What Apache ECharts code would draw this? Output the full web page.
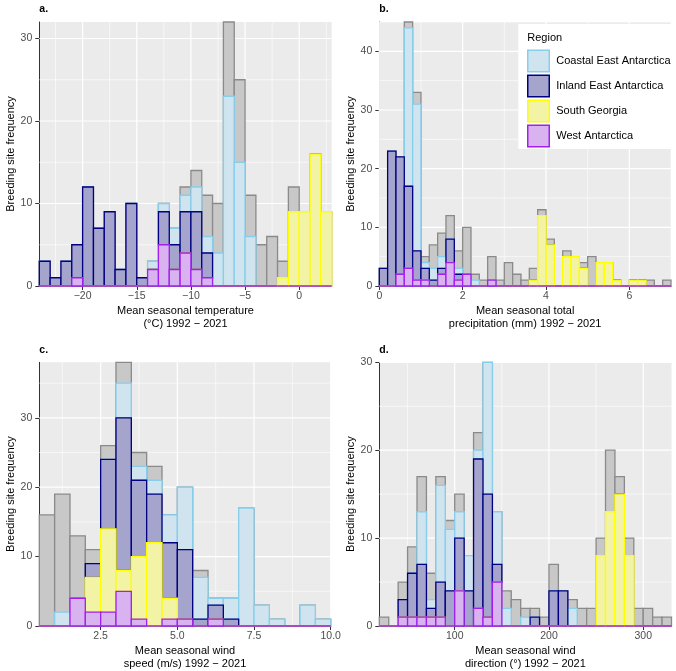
<!DOCTYPE html>
<html><head><meta charset="utf-8">
<script src="https://cdn.jsdelivr.net/npm/echarts@6/dist/echarts.min.js"></script>
<style>html,body{margin:0;padding:0;background:#fff}#c{width:676px;height:671px}</style>
</head><body><div id="c"></div>
<script>
// ---------- DATA ----------
const regionNames = ['Coastal East Antarctica', 'Inland East Antarctica', 'South Georgia', 'West Antarctica'];

// a. temperature: bins of 1 °C starting at -24
const tempBinStart = -24, tempBinWidth = 1;
const tempAll     = [3,1,3,5,12,7,9,2,10,1,3,10,7,12,14,11,10,32,25,11,5,6,3,12,9,16,9];
const tempCoastal = [0,0,0,0,0,0,0,0,0,0,1,1,2,2,3,2,4,23,15,6,0,0,0,0,0,0,0];
const tempInland  = [3,1,3,4,12,7,9,2,10,1,0,4,3,5,7,3,0,0,0,0,0,0,0,0,0,0,0];
const tempSG      = [0,0,0,0,0,0,0,0,0,0,0,0,0,0,0,0,0,0,0,0,0,0,1,9,9,16,9];
const tempWest    = [0,0,0,1,0,0,0,0,0,0,2,5,2,4,2,1,0,0,0,0,0,0,0,0,0,0,0];
const tempXTicks = [-20,-15,-10,-5,0];
const tempXMinor = [-22.5,-17.5,-12.5,-7.5,-2.5,2.5];

// b. precipitation: bins of 0.2 mm starting at 0
const precBinStart = 0, precBinWidth = 0.2;
const precAll     = [3,23,22,45,33,5,7,9,12,6,10,2,1,5,1,4,2,1,3,13,8,0,6,5,4,5,4,4,1,0,1,1,1,0,1];
const precCoastal = [0,0,0,27,25,1,2,2,0,1,0,1,0,0,0,0,0,0,0,0,0,0,0,0,0,0,0,0,0,0,0,0,0,0,0];
const precInland  = [3,23,20,14,5,2,1,1,4,1,0,0,0,0,0,0,0,0,0,0,0,0,0,0,0,0,0,0,0,0,0,0,0,0,0];
const precSG      = [0,0,0,0,0,0,0,0,0,0,0,0,0,0,0,0,0,0,1,12,7,0,5,5,3,0,4,4,1,0,1,1,0,0,0];
const precWest    = [0,0,2,3,1,1,0,2,4,1,2,0,0,1,0,0,0,0,0,0,0,0,0,0,0,0,0,0,0,0,0,0,0,0,0];
const precXTicks = [0,2,4,6];
const precXMinor = [1,3,5,7];

// c. wind speed: bins of 0.5 m/s starting at 0.5
const speedBinStart = 0.5, speedBinWidth = 0.5;
const speedAll     = [16,19,13,11,26,38,25,23,16,20,8,4,4,17,3,1,0,3,1];
const speedCoastal = [0,2,0,0,0,5,2,2,4,9,6,1,3,17,3,1,0,3,1];
const speedInland  = [0,0,0,2,10,22,11,7,8,10,1,2,1,0,0,0,0,0,0];
const speedSG      = [0,0,0,5,12,3,9,12,3,0,0,0,0,0,0,0,0,0,0];
const speedWest    = [0,0,4,2,2,5,1,0,1,1,0,1,0,0,0,0,0,0,0];
const speedXTicks = [2.5,5,7.5,10];
const speedXMinor = [1.25,3.75,6.25,8.75];

// d. wind direction: bins of 10° starting at 20
const dirBinStart = 20, dirBinWidth = 10;
const dirAll     = [1,0,5,9,17,6,17,12,15,8,22,30,13,4,3,2,2,1,7,4,3,2,2,10,20,17,10,2,2,1,1];
const dirCoastal = [0,0,0,0,6,1,11,7,3,4,1,15,6,2,0,1,0,0,0,0,2,0,0,0,0,0,0,0,0,0,0];
const dirInland  = [0,0,2,5,6,1,4,4,6,4,17,14,2,0,0,0,1,0,4,4,0,0,0,0,0,0,0,0,0,0,0];
const dirSG      = [0,0,0,0,0,0,0,0,0,0,0,0,0,0,0,0,0,0,0,0,0,0,0,8,13,15,8,0,0,0,0];
const dirWest    = [0,0,1,1,1,1,1,0,4,0,2,1,5,0,0,0,0,0,0,0,0,0,0,0,0,0,0,0,0,0,0];
const dirXTicks = [100,200,300];
const dirXMinor = [50,150,250];

// ---------- STYLE ----------
const FONT = '"Liberation Sans", Arial, Helvetica, sans-serif';
const STY = {
  all:     {fill:'#c8c8c8', stroke:'#8a8a8a'},
  coastal: {fill:'#cfe4ee', stroke:'#87ceeb'},
  inland:  {fill:'#a4a4cc', stroke:'#000080'},
  sg:      {fill:'#f3f3a6', stroke:'#ffff00'},
  west:    {fill:'#d9b3ef', stroke:'#a020f0'}
};
const BAR_LW = 1.3;

const panels = [
  {label:'a.', grid:{left:39.3, top:22, width:292.4, height:264}, xMin:-24, xMax:3, yMax:32,
   start:tempBinStart, width:tempBinWidth, all:tempAll, coastal:tempCoastal, inland:tempInland, sg:tempSG, west:tempWest,
   xTicks:tempXTicks, xMinor:tempXMinor, yTicks:[0,10,20,30], yMinor:[5,15,25],
   xName:'Mean seasonal temperature\n(°C) 1992 − 2021', fmt:v => v < 0 ? '−' + Math.abs(v) : String(v)},
  {label:'b.', grid:{left:379.3, top:22, width:291.7, height:264}, xMin:0, xMax:7, yMax:45,
   start:precBinStart, width:precBinWidth, all:precAll, coastal:precCoastal, inland:precInland, sg:precSG, west:precWest,
   xTicks:precXTicks, xMinor:precXMinor, yTicks:[0,10,20,30,40], yMinor:[5,15,25,35,45],
   xName:'Mean seasonal total\nprecipitation (mm) 1992 − 2021', fmt:v => String(v)},
  {label:'c.', grid:{left:39.3, top:362.3, width:291.4, height:263.7}, xMin:0.5, xMax:10, yMax:38,
   start:speedBinStart, width:speedBinWidth, all:speedAll, coastal:speedCoastal, inland:speedInland, sg:speedSG, west:speedWest,
   xTicks:speedXTicks, xMinor:speedXMinor, yTicks:[0,10,20,30], yMinor:[5,15,25,35],
   xName:'Mean seasonal wind\nspeed (m/s) 1992 − 2021', fmt:v => v.toFixed(1)},
  {label:'d.', grid:{left:379.3, top:362.3, width:292.2, height:263.7}, xMin:20, xMax:330, yMax:30,
   start:dirBinStart, width:dirBinWidth, all:dirAll, coastal:dirCoastal, inland:dirInland, sg:dirSG, west:dirWest,
   xTicks:dirXTicks, xMinor:dirXMinor, yTicks:[0,10,20,30], yMinor:[5,15,25],
   xName:'Mean seasonal wind\ndirection (°) 1992 − 2021', fmt:v => String(v)}
];

function barRender(sty) {
  return function (params, api) {
    const x0 = api.value(0), x1 = api.value(1), y0 = api.value(2), y1 = api.value(3);
    const a = api.coord([x0, y1]);
    const b = api.coord([x1, y0]);
    return {type:'rect', shape:{x:a[0], y:a[1], width:b[0]-a[0], height:b[1]-a[1]},
            style:{fill:sty.fill, stroke:sty.stroke, lineWidth:BAR_LW}};
  };
}

const grids = [], xAxes = [], yAxes = [], series = [], graphics = [];

panels.forEach((p, i) => {
  grids.push(Object.assign({show:true, backgroundColor:'#ebebeb', borderWidth:0}, p.grid));
  xAxes.push({
    gridIndex:i, type:'value', min:p.xMin, max:p.xMax,
    axisLine:{show:true, onZero:false, lineStyle:{color:'#333', width:1}},
    axisTick:{show:true, length:4, lineStyle:{color:'#333', width:1}, customValues:p.xTicks},
    axisLabel:{customValues:p.xTicks, formatter:p.fmt, color:'#4d4d4d', fontSize:10.5, margin:5, fontFamily:FONT},
    splitLine:{show:false},
    name:p.xName, nameLocation:'middle', nameGap:19,
    nameTextStyle:{fontSize:11, lineHeight:12.4, color:'#000', fontFamily:FONT}
  });
  yAxes.push({
    gridIndex:i, type:'value', min:0, max:p.yMax,
    axisLine:{show:true, onZero:false, lineStyle:{color:'#333', width:1}},
    axisTick:{show:true, length:4, lineStyle:{color:'#333', width:1}, customValues:p.yTicks},
    axisLabel:{customValues:p.yTicks, color:'#4d4d4d', fontSize:10.5, margin:7, fontFamily:FONT},
    splitLine:{show:false},
    name:'Breeding site frequency', nameLocation:'middle', nameGap:23,
    nameTextStyle:{fontSize:11, color:'#000', fontFamily:FONT}
  });

  // grid lines (major and minor) drawn through the axes' scales
  const gl = [];
  p.xTicks.forEach(v => gl.push([v, 1, 1]));
  p.xMinor.forEach(v => gl.push([v, 1, 0]));
  p.yTicks.forEach(v => gl.push([v, 0, 1]));
  p.yMinor.forEach(v => gl.push([v, 0, 0]));
  series.push({
    type:'custom', name:'grid' + i, xAxisIndex:i, yAxisIndex:i, silent:true, z:1,
    data:gl,
    renderItem:(params, api) => {
      const v = api.value(0), isX = api.value(1), major = api.value(2);
      let a, b;
      if (isX) { a = api.coord([v, 0]); b = api.coord([v, p.yMax]); }
      else { a = api.coord([p.xMin, v]); b = api.coord([p.xMax, v]); }
      return {type:'line', shape:{x1:a[0], y1:a[1], x2:b[0], y2:b[1]},
              style:{stroke:'#ffffff', lineWidth: major ? 1.2 : 0.6}};
    }
  });

  const n = p.all.length;
  const edge = k => p.start + k * p.width;
  // total of all sites (behind)
  series.push({
    type:'custom', name:'All sites', xAxisIndex:i, yAxisIndex:i, z:2, clip:false,
    encode:{x:[0,1], y:[2,3]},
    data:p.all.map((v, k) => [edge(k), edge(k+1), 0, v]),
    renderItem:barRender(STY.all)
  });
  // stacked regions: bottom -> top = West, South Georgia, Inland, Coastal
  const base = {west:[], sg:[], inland:[], coastal:[]};
  for (let k = 0; k < n; k++) {
    base.west[k] = 0;
    base.sg[k] = p.west[k];
    base.inland[k] = p.west[k] + p.sg[k];
    base.coastal[k] = p.west[k] + p.sg[k] + p.inland[k];
  }
  const order = [['coastal', 0], ['inland', 1], ['sg', 2], ['west', 3]];
  order.forEach(([key, ni]) => {
    series.push({
      type:'custom', name:regionNames[ni], xAxisIndex:i, yAxisIndex:i, z:3, clip:false,
      encode:{x:[0,1], y:[2,3]},
      itemStyle:{color:STY[key].fill, borderColor:STY[key].stroke, borderWidth:1.5},
      data:p[key].map((v, k) => [edge(k), edge(k+1), base[key][k], base[key][k] + v]),
      renderItem:barRender(STY[key])
    });
  });

  graphics.push({type:'text', z:30, style:{text:p.label, x:p.grid.left, y:p.grid.top - 12.5,
    font:'bold 10.5px ' + FONT, fill:'#000', textAlign:'left', textVerticalAlign:'middle'}});
});

// legend box and title
graphics.push({type:'rect', z:15, shape:{x:518.3, y:24, width:160, height:125}, style:{fill:'#ffffff'}});
graphics.push({type:'text', z:30, style:{text:'Region', x:527.3, y:38.3, font:'11px ' + FONT, fill:'#000',
  textAlign:'left', textVerticalAlign:'middle'}});

const legendKeys = ['coastal', 'inland', 'sg', 'west'];
const option = {
  animation:false,
  grid:grids, xAxis:xAxes, yAxis:yAxes, series:series,
  graphic:graphics,
  legend:{
    orient:'vertical', left:527, top:49.5, itemWidth:21.5, itemHeight:21.5, itemGap:2,
    padding:0, z:30, selectedMode:false,
    textStyle:{fontSize:11, color:'#000', fontFamily:FONT, padding:[0,0,0,2]},
    data:regionNames.map((nm, j) => ({name:nm, icon:'rect',
      itemStyle:{color:STY[legendKeys[j]].fill, borderColor:STY[legendKeys[j]].stroke, borderWidth:1.5}}))
  }
};

const chart = echarts.init(document.getElementById('c'), null, {renderer:'canvas'});
chart.setOption(option);
</script>
</body></html>
